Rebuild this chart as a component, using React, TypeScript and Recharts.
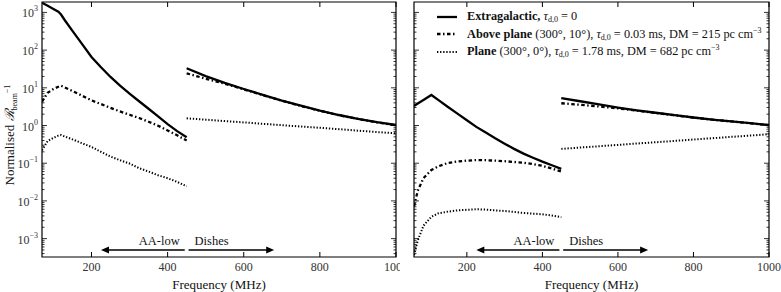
import { LineChart, Line, XAxis, YAxis, ReferenceArea, ReferenceLine } from "recharts"

// frequency grids (MHz)
const lowFreqA = [70, 85, 100, 113, 120, 130, 150, 175, 200, 225, 250, 275, 300, 325, 350, 375, 400, 425, 450]
const lowFreqB = [60, 70, 85, 106, 125, 150, 175, 200, 225, 250, 275, 300, 325, 350, 375, 400, 425, 450]
const dishFreq = [450, 500, 550, 600, 650, 700, 750, 800, 850, 900, 950, 1000]

// left panel
const extraLowA = [1800, 1500, 1240, 1050, 880, 620, 325, 146, 66, 35, 19.4, 11.4, 7.0, 4.4, 2.78, 1.74, 1.09, 0.71, 0.49]
const aboveLowA = [4.3, 7.4, 9.3, 10.7, 11.4, 10.2, 8.2, 6.2, 4.65, 3.7, 2.93, 2.36, 1.93, 1.58, 1.26, 0.99, 0.74, 0.55, 0.4]
const planeLowA = [0.22, 0.39, 0.47, 0.54, 0.56, 0.51, 0.43, 0.34, 0.27, 0.2, 0.15, 0.12, 0.098, 0.074, 0.06, 0.048, 0.04, 0.032, 0.0245]
const extraDishA = [33, 20.5, 13.5, 9.3, 6.5, 4.6, 3.35, 2.48, 1.9, 1.51, 1.23, 1.03]
const aboveDishA = [24.3, 17.4, 12.9, 9.1, 6.4, 4.55, 3.3, 2.45, 1.87, 1.49, 1.21, 1.01]
const planeDishA = [1.55, 1.43, 1.31, 1.21, 1.11, 1.02, 0.94, 0.87, 0.8, 0.73, 0.67, 0.62]

// right panel
const extraLowB = [3.3, 3.83, 4.75, 6.45, 4.7, 3.1, 2.07, 1.38, 0.92, 0.65, 0.457, 0.33, 0.24, 0.18, 0.14, 0.11, 0.088, 0.071]
const aboveLowB = [0.0072, 0.0186, 0.04, 0.066, 0.083, 0.102, 0.111, 0.117, 0.121, 0.12, 0.117, 0.113, 0.108, 0.103, 0.095, 0.085, 0.072, 0.06]
const planeLowB = [0.00037, 0.00089, 0.0022, 0.0038, 0.0047, 0.0052, 0.0056, 0.0058, 0.006, 0.0059, 0.0056, 0.0054, 0.0051, 0.0048, 0.0046, 0.0044, 0.0041, 0.0037]
const extraDishB = [5.3, 4.4, 3.65, 3.0, 2.52, 2.18, 1.89, 1.63, 1.44, 1.29, 1.15, 1.03]
const aboveDishB = [3.9, 3.55, 3.2, 2.85, 2.47, 2.15, 1.87, 1.62, 1.43, 1.28, 1.14, 1.02]
const planeDishB = [0.24, 0.26, 0.282, 0.306, 0.333, 0.36, 0.39, 0.425, 0.46, 0.5, 0.54, 0.59]

const xTicks = [200, 400, 600, 800, 1000]
const yDomain = [3.25e-4, 1890]
const arrowY = 5e-4
const aaLowBand = [225, 445]
const dishBand = [455, 680]

const FONT = "'Liberation Serif', 'Times New Roman', serif"
const TOP = 2
const BOTTOM = 257

const yTicks: number[] = []
for (let e = -4; e <= 3; e++) {
  for (let m = 1; m <= 9; m++) {
    const v = m * Math.pow(10, e)
    if (v >= yDomain[0] && v <= yDomain[1]) yTicks.push(v)
  }
}

const zip = (f: number[], v: number[]) => f.map((x, i) => ({ f: x, v: v[i] }))

const SOLID = { stroke: "#000", strokeWidth: 2.3 }
const DASHDOT = { stroke: "#000", strokeWidth: 2.3, strokeDasharray: "3.5 2.5 1.5 2.5" }
const DOTTED = { stroke: "#000", strokeWidth: 2, strokeDasharray: "1.3 1.8" }

function XTick(props: any) {
  const { x, payload } = props
  return (
    <g>
      <line x1={x} x2={x} y1={BOTTOM} y2={BOTTOM - 5} stroke="#000" />
      <line x1={x} x2={x} y1={TOP} y2={TOP + 5} stroke="#000" />
      <text x={x} y={BOTTOM + 14} textAnchor="middle" fontSize={12} fontFamily={FONT} fill="#333">
        {payload.value}
      </text>
    </g>
  )
}

function YTick(props: any) {
  const { y, payload, left, right, showLabel } = props
  const lg = Math.log10(payload.value)
  const major = Math.abs(lg - Math.round(lg)) < 1e-6
  const len = major ? 5 : 2.5
  const e = Math.round(lg)
  return (
    <g>
      <line x1={left} x2={left + len} y1={y} y2={y} stroke="#000" strokeWidth={0.8} />
      <line x1={right} x2={right - len} y1={y} y2={y} stroke="#000" strokeWidth={0.8} />
      {showLabel && major && (
        <text x={left - 4} y={y + 5} textAnchor="end" fontSize={12} fontFamily={FONT} fill="#333">
          10
          <tspan fontSize={8} dy={-6}>{e < 0 ? "\u2212" + Math.abs(e) : e}</tspan>
        </text>
      )}
    </g>
  )
}

function arrowShape(headLeft: boolean, label: string) {
  return (props: any) => {
    const { x1, x2, y1 } = props
    const a = Math.min(x1, x2)
    const b = Math.max(x1, x2)
    const y = y1
    const head = headLeft
      ? `${a},${y} ${a + 8},${y - 3.5} ${a + 8},${y + 3.5}`
      : `${b},${y} ${b - 8},${y - 3.5} ${b - 8},${y + 3.5}`
    return (
      <g>
        <line x1={headLeft ? a + 6 : a} x2={headLeft ? b : b - 6} y1={y} y2={y} stroke="#000" strokeWidth={1.5} />
        <polygon points={head} fill="#000" />
        <text
          x={headLeft ? b - 5 : a + 6}
          y={y - 5}
          textAnchor={headLeft ? "end" : "start"}
          fontSize={12.5}
          fontFamily={FONT}
          fill="#111"
        >
          {label}
        </text>
      </g>
    )
  }
}

function YLabel() {
  return (
    <text transform="translate(14,135) rotate(-90)" textAnchor="middle" fontSize={13} fontFamily={FONT} fill="#111">
      Normalised <tspan fontStyle="italic">ℛ</tspan>
      <tspan fontSize={8} dy={3}>beam</tspan>
      <tspan fontSize={8} dy={-7}>{"\u22121"}</tspan>
    </text>
  )
}

function Panel(props: any) {
  const { width, xMin, yAxisWidth, marginLeft, marginRight, series, showYLabels } = props
  const plotL = marginLeft + yAxisWidth
  const plotR = width - marginRight
  return (
    <LineChart width={width} height={292} margin={{ top: TOP, right: marginRight, bottom: 0, left: marginLeft }}>
      <XAxis
        type="number"
        dataKey="f"
        domain={[xMin, 1000]}
        allowDataOverflow
        ticks={xTicks}
        interval={0}
        height={35}
        tickLine={false}
        axisLine={false}
        tick={(p: any) => <XTick {...p} />}
        label={() => (
          <text x={(plotL + plotR) / 2} y={289} textAnchor="middle" fontSize={13} fontFamily={FONT} fill="#111">
            Frequency (MHz)
          </text>
        )}
      />
      <YAxis
        type="number"
        scale="log"
        domain={yDomain}
        allowDataOverflow
        ticks={yTicks}
        interval={0}
        width={yAxisWidth}
        tickLine={false}
        axisLine={false}
        tick={(p: any) => <YTick {...p} left={plotL} right={plotR} showLabel={showYLabels} />}
        label={showYLabels ? () => <YLabel /> : undefined}
      />
      <ReferenceArea x1={xMin} x2={1000} y1={yDomain[0]} y2={yDomain[1]} fill="none" stroke="#000" strokeWidth={1.2} fillOpacity={0} />
      <ReferenceLine
        segment={[{ x: aaLowBand[0], y: arrowY }, { x: aaLowBand[1], y: arrowY }]}
        shape={arrowShape(true, "AA-low")}
      />
      <ReferenceLine
        segment={[{ x: dishBand[0], y: arrowY }, { x: dishBand[1], y: arrowY }]}
        shape={arrowShape(false, "Dishes")}
      />
      {series.map((s: any, i: number) => (
        <Line
          key={i}
          data={s.data}
          dataKey="v"
          type="linear"
          dot={false}
          activeDot={false}
          isAnimationActive={false}
          {...s.style}
        />
      ))}
    </LineChart>
  )
}

function Legend() {
  const row = { display: "flex", alignItems: "center", height: 17.5, whiteSpace: "nowrap" as const }
  const sample = (style: any) => (
    <svg width={20} height={8} style={{ marginRight: 10 }}>
      <line x1={0} x2={20} y1={4} y2={4} {...style} />
    </svg>
  )
  const tau = (
    <span>
      <i>τ</i>
      <sub style={{ fontSize: 8, verticalAlign: "-2px", lineHeight: 0 }}>d,0</sub>
    </span>
  )
  const cm3 = <sup style={{ fontSize: 8, verticalAlign: "5px", lineHeight: 0 }}>{"\u22123"}</sup>
  return (
    <div
      style={{
        position: "absolute",
        left: 437,
        top: 8,
        fontFamily: FONT,
        fontSize: 12.3,
        lineHeight: "17.5px",
        color: "#111",
      }}
    >
      <div style={row}>
        {sample(SOLID)}
        <span>
          <b>Extragalactic,</b> {tau} = 0
        </span>
      </div>
      <div style={row}>
        {sample(DASHDOT)}
        <span>
          <b>Above plane</b> (300°, 10°), {tau} = 0.03 ms, DM = 215 pc cm{cm3}
        </span>
      </div>
      <div style={row}>
        {sample(DOTTED)}
        <span>
          <b>Plane</b> (300°, 0°), {tau} = 1.78 ms, DM = 682 pc cm{cm3}
        </span>
      </div>
    </div>
  )
}

export default function App() {
  const left = [
    { data: zip(lowFreqA, extraLowA), style: SOLID },
    { data: zip(lowFreqA, aboveLowA), style: DASHDOT },
    { data: zip(lowFreqA, planeLowA), style: DOTTED },
    { data: zip(dishFreq, extraDishA), style: SOLID },
    { data: zip(dishFreq, aboveDishA), style: DASHDOT },
    { data: zip(dishFreq, planeDishA), style: DOTTED },
  ]
  const right = [
    { data: zip(lowFreqB, extraLowB), style: SOLID },
    { data: zip(lowFreqB, aboveLowB), style: DASHDOT },
    { data: zip(lowFreqB, planeLowB), style: DOTTED },
    { data: zip(dishFreq, extraDishB), style: SOLID },
    { data: zip(dishFreq, aboveDishB), style: DASHDOT },
    { data: zip(dishFreq, planeDishB), style: DOTTED },
  ]
  return (
    <div style={{ position: "absolute", left: 0, top: 0, width: 781, height: 292, background: "#fff", overflow: "hidden" }}>
      <div style={{ position: "absolute", left: 0, top: 0, width: 400, height: 292, overflow: "hidden" }}>
        <Panel width={400} xMin={70} yAxisWidth={40} marginLeft={2} marginRight={4} series={left} showYLabels />
      </div>
      <div style={{ position: "absolute", left: 400, top: 0, width: 381, height: 292 }}>
        <Panel width={381} xMin={60} yAxisWidth={14} marginLeft={0} marginRight={12} series={right} showYLabels={false} />
      </div>
      <Legend />
    </div>
  )
}
